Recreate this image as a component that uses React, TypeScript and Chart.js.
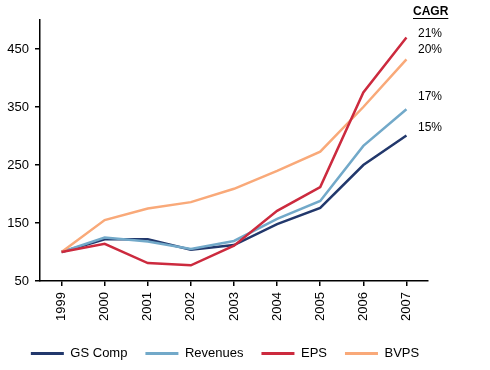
import React, { useEffect, useRef } from 'react';
import { Chart, registerables } from 'chart.js';

Chart.register(...registerables);

const years = ['1999', '2000', '2001', '2002', '2003', '2004', '2005', '2006', '2007'];
const gsComp = [100, 122, 122, 104, 112, 148, 176, 250, 301];
const revenues = [100, 125, 118, 105, 119, 157, 188, 283, 346];
const eps = [100, 114, 81, 77, 111, 171, 212, 375, 470];
const bvps = [100, 155, 175, 186, 209, 240, 273, 350, 432];
const yTicks = [50, 150, 250, 350, 450];
const yMin = 50;
const yMax = 500;
const cagrTitle = 'CAGR';
const cagrLabels = ['21%', '20%', '17%', '15%'];
const cagrAnchors = [476, 448, 367, 315];

const FONT = '"Liberation Sans", Arial, sans-serif';

const cagrPlugin = {
  id: 'cagr',
  afterDraw(chart: any) {
    const { ctx, chartArea, scales } = chart;
    const y = scales.y;
    ctx.save();
    ctx.fillStyle = '#000';
    ctx.textBaseline = 'middle';
    ctx.textAlign = 'left';
    ctx.font = `bold 12px ${FONT}`;
    const tx = chartArea.right - 15;
    ctx.fillText(cagrTitle, tx, 12);
    const w = ctx.measureText(cagrTitle).width;
    ctx.strokeStyle = '#000';
    ctx.lineWidth = 1;
    ctx.beginPath();
    ctx.moveTo(tx, 18.5);
    ctx.lineTo(tx + w, 18.5);
    ctx.stroke();
    ctx.font = `12px ${FONT}`;
    cagrLabels.forEach((lab, i) => {
      ctx.fillText(lab, chartArea.right - 10, y.getPixelForValue(cagrAnchors[i]));
    });
    ctx.restore();
  },
};

export default function App() {
  const ref = useRef<HTMLCanvasElement | null>(null);

  useEffect(() => {
    document.body.style.margin = '0';
    if (!ref.current) return;
    const mk = (label: string, data: number[], color: string, order: number) => ({
      label,
      data,
      borderColor: color,
      backgroundColor: color,
      borderWidth: 2.5,
      pointRadius: 0,
      tension: 0,
      fill: false,
      order,
      yAxisID: 'y',
    });
    const chart = new Chart(ref.current, {
      type: 'line',
      data: {
        labels: years,
        datasets: [
          mk('GS Comp', gsComp, '#22386c', 3),
          mk('Revenues', revenues, '#72a9c9', 2),
          mk('EPS', eps, '#cc2a3e', 0),
          mk('BVPS', bvps, '#f9a979', 1),
        ],
      },
      options: {
        responsive: false,
        animation: false,
        layout: { padding: { top: 20, right: 40, left: 0, bottom: 0 } },
        plugins: {
          tooltip: { enabled: false },
          legend: {
            position: 'bottom',
            maxHeight: 44,
            labels: {
              boxWidth: 33,
              boxHeight: 3,
              padding: 18,
              color: '#000',
              font: { family: FONT, size: 13 },
              sort: (a: any, b: any) => a.datasetIndex - b.datasetIndex,
              generateLabels: (c: any) =>
                Chart.defaults.plugins.legend.labels.generateLabels(c).map((l: any) => ({
                  ...l,
                  lineWidth: 0,
                  fillStyle: l.strokeStyle,
                })),
            },
          },
        },
        scales: {
          x: {
            offset: true,
            grid: { drawOnChartArea: false, drawTicks: true, tickLength: 5, color: '#000', lineWidth: 1.5 },
            border: { display: true, color: '#000', width: 1.5 },
            ticks: {
              minRotation: 90,
              maxRotation: 90,
              padding: 6,
              color: '#000',
              font: { family: FONT, size: 13 },
            },
            afterFit: (s: any) => {
              s.height = 48;
            },
          },
          y: {
            min: yMin,
            max: yMax,
            grid: { drawOnChartArea: false, drawTicks: true, tickLength: 5, color: '#000', lineWidth: 1.5 },
            border: { display: true, color: '#000', width: 1.5 },
            ticks: {
              padding: 6,
              color: '#000',
              font: { family: FONT, size: 13 },
            },
            afterBuildTicks: (s: any) => {
              s.ticks = yTicks.map((v) => ({ value: v }));
            },
            afterFit: (s: any) => {
              s.width = 40;
            },
          },
          yRight: {
            position: 'right',
            display: true,
            grid: { display: false },
            border: { display: false },
            ticks: { display: false },
            afterFit: (s: any) => {
              s.width = 22;
            },
          },
        },
      },
      plugins: [cagrPlugin],
    } as any);
    return () => chart.destroy();
  }, []);

  return <canvas ref={ref} width={490} height={370} style={{ display: 'block' }} />;
}
